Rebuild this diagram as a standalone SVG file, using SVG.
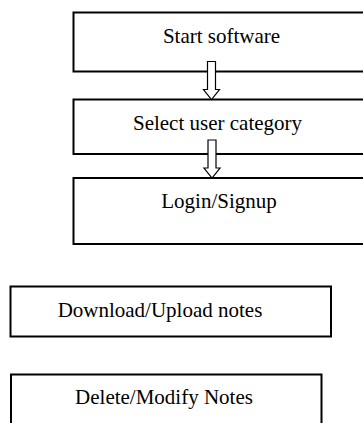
<svg xmlns="http://www.w3.org/2000/svg" width="363" height="423" viewBox="0 0 363 423">
<style>
.box{fill:none;stroke:#000;stroke-width:2}
.lbl{font-family:"Liberation Serif","Times New Roman",serif;font-size:21px;fill:#000;text-anchor:middle}
.arr{fill:#fff;stroke:#000;stroke-width:1.2;stroke-linejoin:miter}
</style>
<rect x="0" y="0" width="363" height="423" fill="#fff"/>
<g id="n1"><rect class="box" x="73.5" y="12.5" width="300" height="59"/><text class="lbl" x="221.5" y="42.5">Start software</text></g>
<g id="n2"><rect class="box" x="73.5" y="99.5" width="300" height="54.5"/><text class="lbl" x="217.5" y="129.5">Select user category</text></g>
<g id="n3"><rect class="box" x="73.5" y="178" width="300" height="66"/><text class="lbl" x="219" y="207.5">Login/Signup</text></g>
<g id="n4"><rect class="box" x="10.5" y="286.5" width="320.5" height="50"/><text class="lbl" x="160" y="317">Download/Upload notes</text></g>
<g id="n5"><rect class="box" x="11" y="374.5" width="310.5" height="60"/><text class="lbl" x="164" y="403.5">Delete/Modify Notes</text></g>
<g id="connectors">
<path class="arr" d="M207.5,61.5 H215.5 V89.5 H219.5 L211.5,99.5 L203.5,89.5 H207.5 Z"/>
<path class="arr" d="M208,140 H216 V168 H220 L212,178 L204,168 H208 Z"/>
</g>
</svg>
